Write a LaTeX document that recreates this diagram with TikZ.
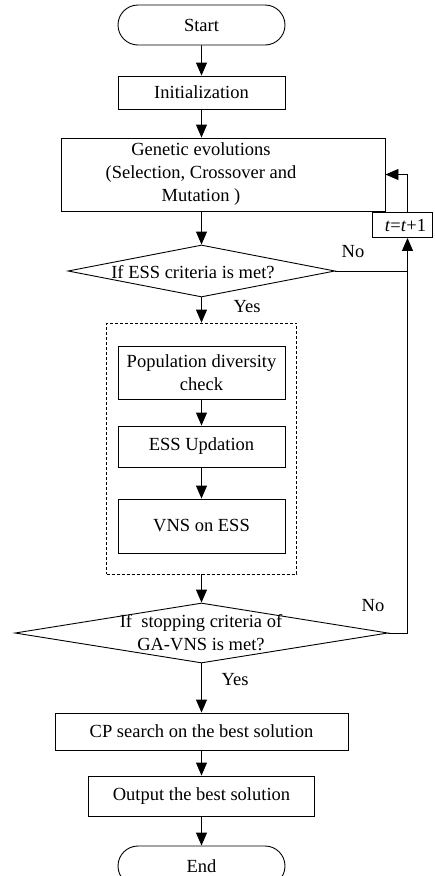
\documentclass[tikz,border=0pt]{standalone}
\usepackage{fontspec}
\setmainfont{Liberation Serif}
\usetikzlibrary{shapes.geometric,shapes.misc,arrows.meta}
\begin{document}
\begin{tikzpicture}[x=1pt,y=-1pt,
  every node/.style={font=\fontsize{18.5}{23}\selectfont},
  box/.style={draw, line width=0.9pt, rectangle, inner sep=0pt},
  term/.style={draw, line width=0.9pt, rounded rectangle, inner sep=0pt, minimum width=167pt, minimum height=40pt},
  dia/.style={draw, line width=0.9pt, diamond, inner sep=0pt},
  conn/.style={line width=0.9pt, -{Triangle[length=13pt,width=11pt]}},
  wire/.style={line width=0.9pt},
  lbl/.style={inner sep=0pt},
  group/.style={draw, line width=0.8pt, dash pattern=on 3pt off 2pt, inner sep=0pt}
]
\useasboundingbox (0,0) rectangle (435,876);
\node[term] (start) at (201.5,25) {Start};
\node[box, minimum width=167pt, minimum height=33pt] (init) at (201.5,92.5) {Initialization};
\node[box, minimum width=324pt, minimum height=73pt] (ge) at (223,174.5) {};
\node[lbl, align=center] (get) at (201,174.5) {Genetic evolutions\\(Selection, Crossover and\\Mutation )};
\node[dia, minimum width=267pt, minimum height=52pt] (d1) at (201.5,271) {};
\node[lbl] (d1t) at (193,272) {If ESS criteria is met?};
\node[group, minimum width=190pt, minimum height=251pt] (grp) at (201.5,448.5) {};
\node[box, minimum width=167pt, minimum height=53pt, align=center] (pop) at (201.5,372.5) {Population diversity\\check};
\node[box, minimum width=167pt, minimum height=41pt] (upd) at (201.5,446.5) {ESS Updation};
\node[box, minimum width=167pt, minimum height=54pt] (vns) at (201.5,526) {VNS on ESS};
\node[dia, minimum width=373pt, minimum height=60pt] (d2) at (201.5,633) {};
\node[lbl, align=center] (d2t) at (201,633) {If\ \ stopping criteria of\\GA-VNS is met?};
\node[box, minimum width=293pt, minimum height=37pt] (cp) at (201.5,731.5) {CP search on the best solution};
\node[box, minimum width=226pt, minimum height=40pt] (out) at (201.5,796) {Output the best solution};
\node[term] (end) at (201.5,866) {End};
\node[box, minimum width=60pt, minimum height=25pt] (tt) at (402,225) {};
\node[lbl] (ttt) at (405.5,225) {\textit{t}=\textit{t}+1};
\coordinate (rail) at (407.5,0);

\draw[conn] (start) -- (init);
\draw[conn] (init) -- (init.south |- ge.north);
\draw[conn] (ge.south -| d1.north) -- (d1.north);
\draw[conn] (d1.south) -- (d1.south |- grp.north);
\draw[conn] (pop) -- (upd);
\draw[conn] (upd) -- (vns);
\draw[conn] (grp.south) -- (d2.north);
\draw[conn] (d2.south) -- (cp.north);
\draw[conn] (cp) -- (out);
\draw[conn] (out) -- (end);
\draw[conn] (d2.east) -- (d2.east -| rail) -- (rail |- tt.south);
\draw[wire] (d1.east) -- (d1.east -| rail);
\draw[conn] (rail |- tt.north) -- (rail |- ge.east) -- (ge.east);

\node[lbl] (no1) at (353,252) {No};
\node[lbl] (yes1) at (247,307) {Yes};
\node[lbl] (no2) at (373,606) {No};
\node[lbl] (yes2) at (235,680) {Yes};
\end{tikzpicture}
\end{document}
